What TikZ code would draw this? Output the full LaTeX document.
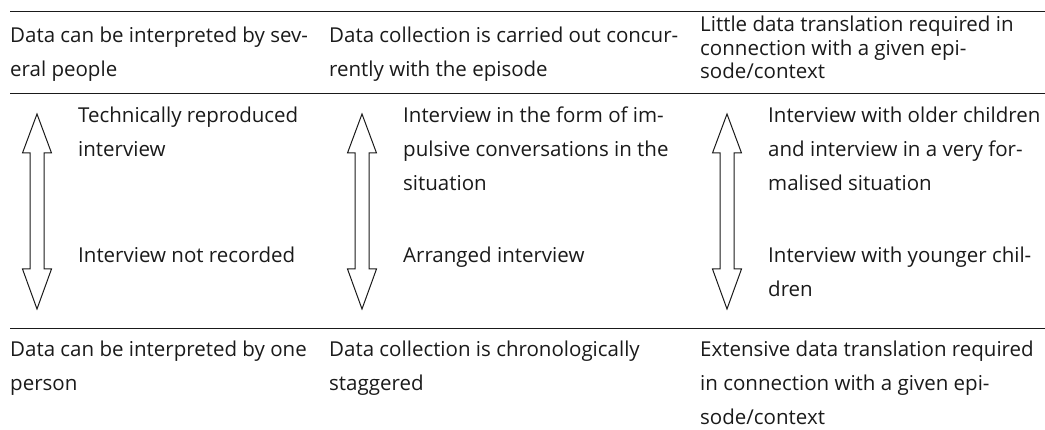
\documentclass[tikz,border=0pt]{standalone}
\usepackage{fontspec}
\setmainfont{Open Sans}
\definecolor{ink}{HTML}{1A1A1A}
\newcommand\mlines[2]{\vtop{\baselineskip=#1pt\lineskip=0pt\halign{##\hfil\cr #2\crcr}}}
\begin{document}
\begin{tikzpicture}[x=1pt,y=-1pt,
  txt/.style={anchor=base west,inner sep=0pt,text=ink,font=\fontsize{20.5}{34}\selectfont},
  rule/.style={draw=ink,line width=1pt},
  dblarrow/.style={draw=ink,line width=1pt,line join=miter}]
\useasboundingbox (0,0) rectangle (1045,430);
% horizontal rules
\coordinate (r1a) at (10,12);  \coordinate (r1b) at (1045,12);
\coordinate (r2a) at (10,94);  \coordinate (r2b) at (1045,94);
\coordinate (r3a) at (10,329); \coordinate (r3b) at (1045,329);
\draw[rule] (r1a) -- (r1b);
\draw[rule] (r2a) -- (r2b);
\draw[rule] (r3a) -- (r3b);
% top headers
\node[txt] (h1) at (10,43) {\mlines{34}{Data can be interpreted by sev-\cr eral people}};
\node[txt] (h2) at (329,43) {\mlines{34}{Data collection is carried out concur-\cr rently with the episode}};
\node[txt] (h3) at (700,32) {\mlines{23.5}{Little data translation required in\cr connection with a given epi-\cr sode/context}};
% body texts
\node[txt] (b1a) at (78,123) {\mlines{34}{Technically reproduced\cr interview}};
\node[txt] (b1b) at (78,263) {\mlines{34}{Interview not recorded}};
\node[txt] (b2a) at (403,123) {\mlines{34}{Interview in the form of im-\cr pulsive conversations in the\cr situation}};
\node[txt] (b2b) at (403,263) {\mlines{34}{Arranged interview}};
\node[txt] (b3a) at (768,123) {\mlines{34}{Interview with older children\cr and interview in a very for-\cr malised situation}};
\node[txt] (b3b) at (768,263) {\mlines{34}{Interview with younger chil-\cr dren}};
% bottom headers
\node[txt] (f1) at (10,357) {\mlines{34}{Data can be interpreted by one\cr person}};
\node[txt] (f2) at (329,357) {\mlines{34}{Data collection is chronologically\cr staggered}};
\node[txt] (f3) at (700,357) {\mlines{34}{Extensive data translation required\cr in connection with a given epi-\cr sode/context}};
% double arrows
\foreach \cx in {37,362,727}{
  \draw[dblarrow] (\cx,114) -- (\cx+14.5,153) -- (\cx+7,153) -- (\cx+7,269) -- (\cx+14.5,269)
    -- (\cx,309) -- (\cx-14.5,269) -- (\cx-7,269) -- (\cx-7,153) -- (\cx-14.5,153) -- cycle;
}
\end{tikzpicture}
\end{document}
